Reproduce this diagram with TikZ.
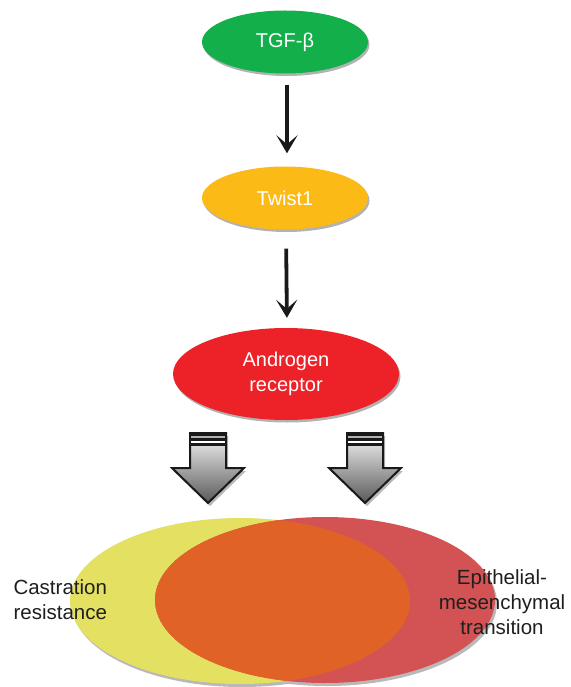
\documentclass[tikz,border=0pt]{standalone}
\usepackage{fontspec}
\setmainfont{Liberation Sans}
\usetikzlibrary{arrows.meta,shapes.geometric,shadows}

\definecolor{tgfgreen}{HTML}{13AF4B}
\definecolor{twistorange}{HTML}{FBBA16}
\definecolor{arred}{HTML}{EC2228}
\definecolor{vennyellow}{HTML}{E3E062}
\definecolor{vennred}{HTML}{D35254}
\definecolor{vennorange}{HTML}{E06226}

\begin{document}
\begin{tikzpicture}[x=1pt,y=-1pt,
  blob/.style={ellipse,inner sep=0pt,text=white,align=center,
    font=\fontsize{20}{25}\selectfont,
    drop shadow={shadow xshift=1.5pt,shadow yshift=-2.5pt,fill=gray!60,opacity=1}},
  arr/.style={-{Stealth[length=18pt,width=21pt,inset=9pt]},line width=3.8pt,black!90},
  lbl/.style={font=\fontsize{20.5}{25}\selectfont,text=black!88},
  fat/.style={line width=2pt,line join=miter,top color=gray!8,bottom color=gray!70!black}]
  \useasboundingbox (0,0) rectangle (570,687);

  % Signalling chain
  \node[blob,fill=tgfgreen,minimum width=166pt,minimum height=63pt] (tgf) at (285,42) {TGF-β};
  \node[blob,fill=twistorange,minimum width=166pt,minimum height=63pt] (twist) at (285,198) {Twist1};
  \node[blob,fill=arred,minimum width=226pt,minimum height=92pt] (ar) at (286,374) {Androgen\\receptor};

  \draw[arr,shorten <=11pt,shorten >=13pt] ([xshift=2pt]tgf.south) -- ([xshift=2pt]twist.north);
  \draw[arr,shorten <=19pt,shorten >=10pt] ([xshift=1pt]twist.south) -- ([xshift=1pt]ar.north);

  % Block arrows
  \foreach \cx in {208,365}{
    \fill[gray!55] (\cx-16,436) -- (\cx+20,436) -- (\cx+20,471) -- (\cx+38,471)
      -- (\cx+2,506) -- (\cx-34,471) -- (\cx-16,471) -- cycle;
    \path[fat,draw=black!90] (\cx-18,433) -- (\cx+18,433) -- (\cx+18,468) -- (\cx+36,468)
      -- (\cx,503) -- (\cx-36,468) -- (\cx-18,468) -- cycle;
    \fill[black!90] (\cx-18,433) rectangle (\cx+18,445.5);
    \draw[line width=1.2pt,gray!60] (\cx-17,437) -- (\cx+17,437);
    \draw[line width=1.4pt,white] (\cx-17,442) -- (\cx+17,442);
  }

  % Venn diagram
  \fill[gray!55] (242,604) ellipse [x radius=170,y radius=83];
  \fill[gray!55] (327,603) ellipse [x radius=170,y radius=83];
  \fill[vennyellow] (240,601) ellipse [x radius=170,y radius=83];
  \fill[vennred] (325,600) ellipse [x radius=170,y radius=83];
  \begin{scope}
    \clip (240,601) ellipse [x radius=170,y radius=83];
    \fill[vennorange] (325,600) ellipse [x radius=170,y radius=83];
  \end{scope}

  \node[lbl,anchor=west,align=left] (castr) at (10,600) {Castration\\resistance};
  \node[lbl,align=center] (emt) at (502,602) {Epithelial-\\mesenchymal\\transition};
\end{tikzpicture}
\end{document}
